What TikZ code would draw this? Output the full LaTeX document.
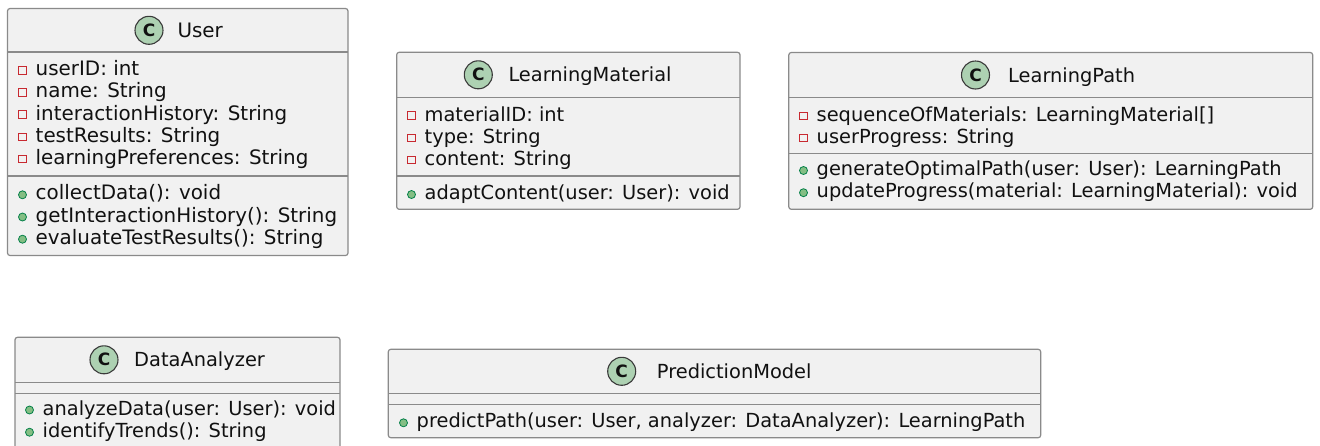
\documentclass[tikz,border=0pt]{standalone}
\usepackage{fontspec}
\newfontfamily\umlfam{DejaVu Sans}
\newcommand\umltext{\umlfam\fontsize{19.4}{22.2}\selectfont}
\newcommand\umlwide{\umlfam\fontsize{19.9}{22.2}\selectfont}
\newcommand\spottext{\umlfam\bfseries\fontsize{17}{17}\selectfont}

\definecolor{boxfill}{HTML}{F1F1F1}
\definecolor{boxline}{HTML}{8A8A8A}
\definecolor{spotfill}{HTML}{ADD1B2}
\definecolor{spotline}{HTML}{3A3A3A}
\definecolor{privred}{HTML}{C82930}
\definecolor{pubfill}{HTML}{84BE84}
\definecolor{publine}{HTML}{038048}
\definecolor{ink}{HTML}{111111}

\tikzset{
  classbox/.style={draw=boxline, fill=boxfill, line width=1.2pt, rounded corners=2.5pt},
  sepline/.style={draw=boxline, line width=1.2pt},
  spot/.style={circle, draw=spotline, fill=spotfill, line width=1.1pt,
    minimum size=28pt, inner sep=0pt, font=\spottext, text=ink},
  classname/.style={anchor=base west, inner sep=0pt, font=\umltext, text=ink},
  member/.style={anchor=base west, inner sep=0pt, font=\umltext, text=ink},
  privfield/.style={rectangle, draw=privred, line width=1pt,
    minimum size=7.5pt, inner sep=0pt},
  pubmethod/.style={circle, draw=publine, fill=pubfill, line width=0.8pt,
    minimum size=8pt, inner sep=0pt}
}

% a private attribute row: name, x, baseline, text
\newcommand\fieldrow[4]{%
  \node[member] (#1) at (#2,#3) {#4};
  \node[privfield] (#1-icon) at ([xshift=-13pt,yshift=5.4pt]#1.base west) {};}
% a public operation row: name, x, baseline, text
\newcommand\methodrow[4]{%
  \node[member] (#1) at (#2,#3) {#4};
  \node[pubmethod] (#1-icon) at ([xshift=-13pt,yshift=5pt]#1.base west) {};}

\begin{document}
\begin{tikzpicture}[x=1pt, y=-1pt]
\useasboundingbox (0,0) rectangle (1320,445);
\fill[white] (0,0) rectangle (1320,445);
\clip (0,0) rectangle (1320,445);

% ---------- User ----------
\begin{scope}[member/.append style={font=\umlwide}, classname/.append style={font=\umlwide}]
\draw[classbox] (7.5,8.5) rectangle (348,255.5);
\draw[sepline] (7.5,52) -- (348,52);
\draw[sepline] (7.5,176) -- (348,176);
\node[spot] (user-spot) at (149,30.3) {C};
\node[classname] (user-name) at (177.3,37.3) {User};
\fieldrow{user-a1}{35.5}{75.7}{userID: int}
\fieldrow{user-a2}{35.5}{97.9}{name: String}
\fieldrow{user-a3}{35.5}{120.1}{interactionHistory: String}
\fieldrow{user-a4}{35.5}{142.3}{testResults: String}
\fieldrow{user-a5}{35.5}{164.5}{learningPreferences: String}
\methodrow{user-m1}{35.5}{199.8}{collectData(): void}
\methodrow{user-m2}{35.5}{222}{getInteractionHistory(): String}
\methodrow{user-m3}{35.5}{244.2}{evaluateTestResults(): String}
\end{scope}

% ---------- LearningMaterial ----------
\draw[classbox] (396.7,52.3) rectangle (740,209.3);
\draw[sepline] (396.7,97.3) -- (740,97.3);
\draw[sepline] (396.7,176) -- (740,176);
\node[spot] (lm-spot) at (478.3,74.8) {C};
\node[classname] (lm-name) at (508.3,81.8) {LearningMaterial};
\fieldrow{lm-a1}{424.5}{121}{materialID: int}
\fieldrow{lm-a2}{424.5}{143.2}{type: String}
\fieldrow{lm-a3}{424.5}{165.4}{content: String}
\methodrow{lm-m1}{424.5}{199.5}{adaptContent(user: User): void}

% ---------- LearningPath ----------
\draw[classbox] (788.8,52.5) rectangle (1312.7,209.3);
\draw[sepline] (788.8,97.8) -- (1312.7,97.8);
\draw[sepline] (788.8,153.8) -- (1312.7,153.8);
\node[spot] (lp-spot) at (975.5,75) {C};
\node[classname] (lp-name) at (1008,82) {LearningPath};
\fieldrow{lp-a1}{816.5}{121.3}{sequenceOfMaterials: LearningMaterial[]}
\fieldrow{lp-a2}{816.5}{143.5}{userProgress: String}
\methodrow{lp-m1}{816.5}{175.5}{generateOptimalPath(user: User): LearningPath}
\methodrow{lp-m2}{816.5}{197.7}{updateProgress(material: LearningMaterial): void}

% ---------- DataAnalyzer ----------
\draw[classbox] (15,337.3) rectangle (340,450);
\draw[sepline] (15,382.3) -- (340,382.3);
\draw[sepline] (15,393.3) -- (340,393.3);
\node[spot] (da-spot) at (104,359.8) {C};
\node[classname] (da-name) at (134,366.8) {DataAnalyzer};
\methodrow{da-m1}{42.5}{415}{analyzeData(user: User): void}
\methodrow{da-m2}{42.5}{437.2}{identifyTrends(): String}

% ---------- PredictionModel ----------
\draw[classbox] (388.3,349.3) rectangle (1040.7,437.7);
\draw[sepline] (388.3,393.3) -- (1040.7,393.3);
\draw[sepline] (388.3,404.3) -- (1040.7,404.3);
\node[spot] (pm-spot) at (621.7,371.3) {C};
\node[classname] (pm-name) at (656.7,378.3) {PredictionModel};
\methodrow{pm-m1}{416.5}{427.8}{predictPath(user: User, analyzer: DataAnalyzer): LearningPath}
\end{tikzpicture}
\end{document}
